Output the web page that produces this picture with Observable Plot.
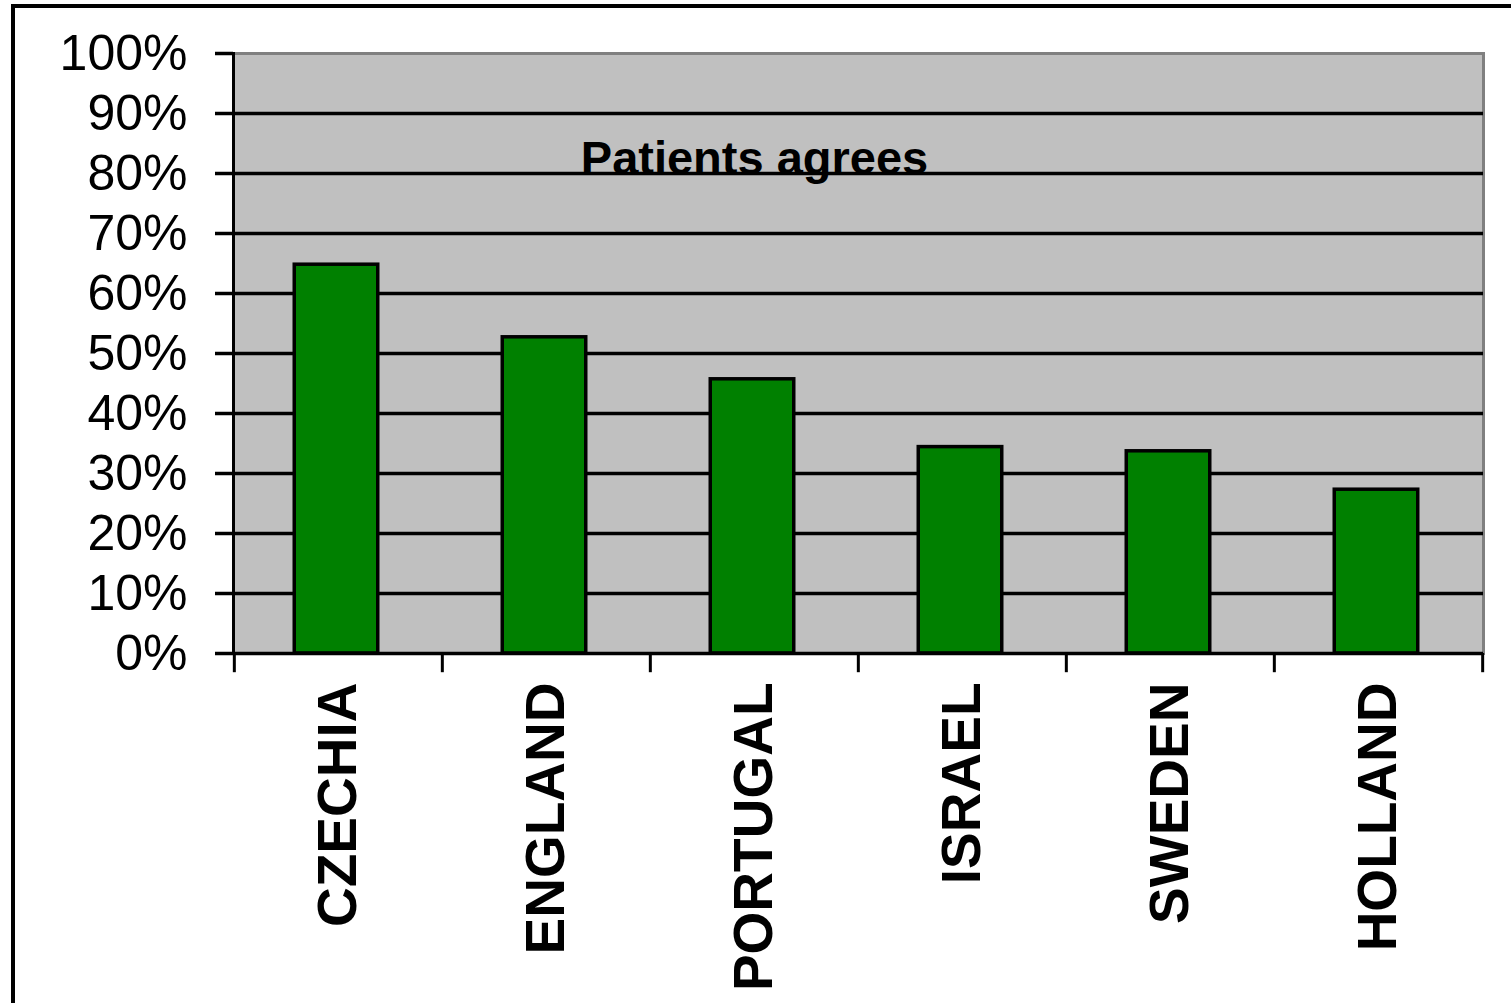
<!DOCTYPE html>
<html>
<head>
<meta charset="utf-8">
<script src="https://cdn.jsdelivr.net/npm/d3@7"></script>
<script src="https://cdn.jsdelivr.net/npm/@observablehq/plot@0.6"></script>
<style>
  html, body { margin: 0; padding: 0; background: white; overflow: hidden; }
  #wrap { position: relative; width: 1511px; height: 1003px; }
  #border { position: absolute; left: 11px; top: 4px; width: 1600px; height: 1100px; border: 4px solid black; box-sizing: border-box; }
  #chart { position: absolute; left: 0; top: 0; }
</style>
</head>
<body>
<div id="wrap"><div id="border"></div><div id="chart"></div></div>
<script>
const countries = ["CZECHIA", "ENGLAND", "PORTUGAL", "ISRAEL", "SWEDEN", "HOLLAND"];
const shares = [0.648, 0.527, 0.457, 0.344, 0.337, 0.273];
const yTicks = [0, 0.1, 0.2, 0.3, 0.4, 0.5, 0.6, 0.7, 0.8, 0.9, 1.0];
const gridTicks = [0.1, 0.2, 0.3, 0.4, 0.5, 0.6, 0.7, 0.8, 0.9];
const title = "Patients agrees";
const titleCountry = "PORTUGAL";
const titleLevel = 0.8;

const data = countries.map((c, i) => ({country: c, value: shares[i]}));

const W = 1511, H = 1003, mL = 233, mR = 28, mT = 53, mB = 350;
const step = (W - mL - mR) / countries.length;
const sw = 3.5;

const chart = Plot.plot({
  width: W,
  height: H,
  marginLeft: mL,
  marginRight: mR,
  marginTop: mT,
  marginBottom: mB,
  style: {fontFamily: "Arial, 'Liberation Sans', sans-serif", background: "transparent", color: "black", overflow: "visible"},
  x: {domain: countries, padding: 0, label: null},
  y: {domain: [0, 1], label: null},
  marks: [
    Plot.frame({fill: "#c0c0c0", stroke: "#808080", strokeWidth: 3}),
    Plot.ruleY(gridTicks, {stroke: "black", strokeWidth: sw}),
    Plot.text([title], {x: [titleCountry], y: [titleLevel], lineAnchor: "bottom", fontSize: 47, fontWeight: "bold", fill: "black"}),
    Plot.barY(data, {x: "country", y: "value", fill: "#008000", stroke: "black", strokeWidth: sw, insetLeft: 60.25, insetRight: 64.25}),
    Plot.ruleY([0], {stroke: "black", strokeWidth: sw}),
    Plot.frame({anchor: "left", stroke: "black", strokeWidth: 3}),
    Plot.ruleX(countries, {x: d => d, dx: -step / 2, y1: 0, y2: -0.032, stroke: "black", strokeWidth: 3}),
    Plot.ruleX([countries[countries.length - 1]], {x: d => d, dx: step / 2, y1: 0, y2: -0.032, stroke: "black", strokeWidth: 3}),
    Plot.axisY({ticks: yTicks, tickFormat: d3.format(".0%"), fontSize: 50, tickSize: 18, tickPadding: 28, strokeWidth: sw, label: null}),
    Plot.axisX({tickSize: 0, tickRotate: -90, tickPadding: 29, fontSize: 55, fontWeight: "bold", label: null})
  ]
});
document.getElementById("chart").appendChild(chart);
</script>
</body>
</html>
